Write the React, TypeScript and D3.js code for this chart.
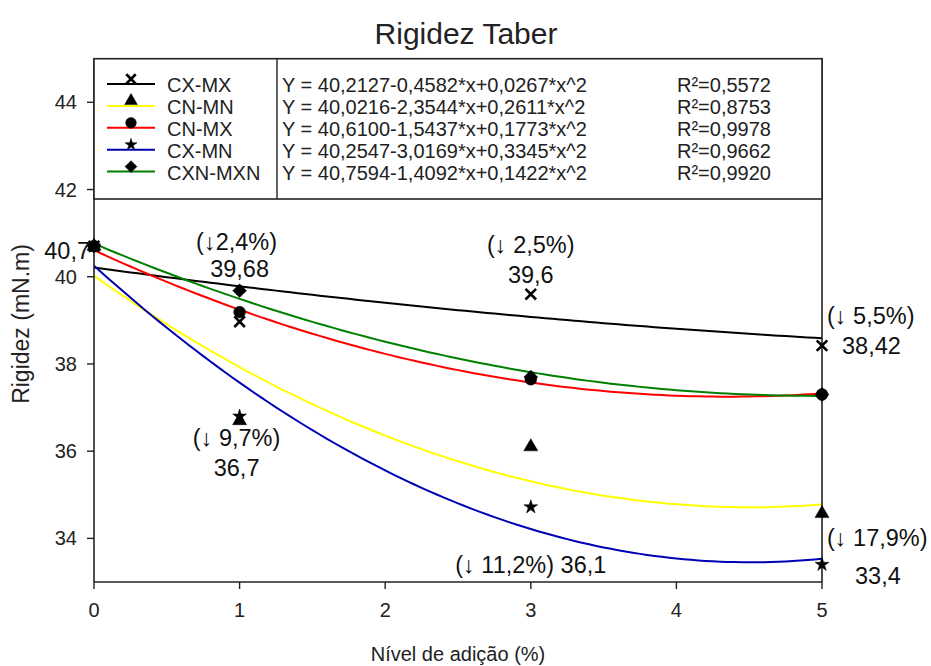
import React from "react";
import * as d3 from "d3";

// Addition levels (%) where samples were measured
const levels = [0, 1, 3, 5];

// Measured stiffness (mN.m) for each formulation
const cxmx = [40.7, 38.97, 39.6, 38.42];
const cnmn = [40.7, 36.7, 36.1, 34.57];
const cnmx = [40.7, 39.19, 37.65, 37.3];
const cxmn = [40.7, 36.8, 34.72, 33.4];
const cxnmxn = [40.7, 39.68, 37.7, 37.3];

const seriesNames = ["CX-MX", "CN-MN", "CN-MX", "CX-MN", "CXN-MXN"];
const seriesColors = ["#000000", "#ffff00", "#ff0000", "#0000b4", "#008000"];

// Quadratic regression coefficients: Y = a + b*x + c*x^2
const coefA = [40.2127, 40.0216, 40.61, 40.2547, 40.7594];
const coefB = [-0.4582, -2.3544, -1.5437, -3.0169, -1.4092];
const coefC = [0.0267, 0.2611, 0.1773, 0.3345, 0.1422];
const rSquared = [0.5572, 0.8753, 0.9978, 0.9662, 0.992];

const xTicks = [0, 1, 2, 3, 4, 5];
const yTicks = [34, 36, 38, 40, 42, 44];

// Value annotations placed next to the measured point they describe
const notes = [
  { x: 0, lines: ["40,7"], anchor: "end", dxs: [-4], dys: [13] },
  { x: 1, lines: ["(\u21932,4%)", "39,68"], anchor: "middle", dxs: [-3, 0], dys: [-41, -14] },
  { x: 3, lines: ["(\u2193 2,5%)", "39,6"], anchor: "middle", dxs: [0, 0], dys: [-41, -11] },
  { x: 1, lines: ["(\u2193 9,7%)", "36,7"], anchor: "middle", dxs: [-3, -3], dys: [25, 55] },
  { x: 3, lines: ["(\u2193 11,2%) 36,1"], anchor: "middle", dxs: [0], dys: [126] },
  { x: 5, lines: ["(\u2193 5,5%)", "38,42"], anchor: "start", dxs: [5, 20], dys: [-22, 8] },
  { x: 5, lines: ["(\u2193 17,9%)", "33,4"], anchor: "start", dxs: [5, 33], dys: [-19, 19] },
];
const noteValues = [40.7, 39.68, 39.6, 36.7, 36.1, 38.42, 33.4];

const W = 931;
const H = 666;
const FONT = "'Liberation Sans', Arial, sans-serif";

const fmt = (v: number) => v.toFixed(4).replace(".", ",");

export default function App() {
  const x = d3.scaleLinear().domain([0, 5]).range([94, 822]);
  const y = d3.scaleLinear().domain([33, 45]).range([582, 58.7]);

  const data = [cxmx, cnmn, cnmx, cxmn, cxnmxn];

  const symbolTypes = [
    d3.symbolTimes,
    d3.symbolTriangle,
    d3.symbolCircle,
    d3.symbolStar,
    d3.symbolSquare,
  ];
  const plotSizes = [75, 85, 110, 60, 95];
  const legendSizes = [60, 70, 90, 45, 70];
  const symbolPath = (i: number, sizes: number[]) =>
    d3.symbol().type(symbolTypes[i]).size(sizes[i])() as string;

  const marker = (i: number, cx: number, cy: number, key: string, sizes: number[]) => {
    const rot = i === 4 ? " rotate(45)" : "";
    const isStroke = i === 0;
    return (
      <path
        key={key}
        d={symbolPath(i, sizes)}
        transform={`translate(${cx},${cy})${rot}`}
        fill={isStroke ? "none" : "#000"}
        stroke="#000"
        strokeWidth={isStroke ? 2.6 : 0.5}
      />
    );
  };

  const samples = d3.range(0, 5.0001, 0.05);
  const curves = coefA.map((a, i) => {
    const pts = samples.map((t) => a + coefB[i] * t + coefC[i] * t * t);
    const gen = d3
      .line<number>()
      .x((_, k) => x(samples[k]))
      .y((d) => y(d));
    return gen(pts) as string;
  });

  const legendTop = 58.7;
  const legendBottom = 199;
  const rowY = (i: number) => 85 + i * 21.9;

  return (
    <svg
      width={W}
      height={H}
      style={{ position: "absolute", left: 0, top: 0, background: "#fff" }}
      fontFamily={FONT}
    >
      <rect x={0} y={0} width={W} height={H} fill="#fff" />

      {/* title */}
      <text x={466} y={44} textAnchor="middle" fontSize={30} fill="#222">
        Rigidez Taber
      </text>

      {/* regression curves */}
      {curves.map((d, i) => (
        <path key={`c${i}`} d={d} fill="none" stroke={seriesColors[i]} strokeWidth={2} />
      ))}

      {/* axes frame */}
      <line x1={94} x2={94} y1={y(45)} y2={y(33)} stroke="#222" strokeWidth={1.6} />
      <line x1={94} x2={822} y1={y(33)} y2={y(33)} stroke="#222" strokeWidth={1.6} />
      <line x1={822} x2={822} y1={y(45)} y2={y(33)} stroke="#222" strokeWidth={1.6} />

      {yTicks.map((t) => (
        <g key={`yt${t}`}>
          <line x1={87} x2={94} y1={y(t)} y2={y(t)} stroke="#222" strokeWidth={1.4} />
          <text x={77} y={y(t) + 7} textAnchor="end" fontSize={20} fill="#222">
            {t}
          </text>
        </g>
      ))}
      {xTicks.map((t) => (
        <g key={`xt${t}`}>
          <line x1={x(t)} x2={x(t)} y1={582} y2={589} stroke="#222" strokeWidth={1.4} />
          <text x={x(t)} y={617} textAnchor="middle" fontSize={20} fill="#222">
            {t}
          </text>
        </g>
      ))}

      {/* axis titles */}
      <text x={458} y={661} textAnchor="middle" fontSize={20} fill="#222">
        Nível de adição (%)
      </text>
      <text
        transform={`translate(29,${324}) rotate(-90)`}
        textAnchor="middle"
        fontSize={23}
        fill="#222"
      >
        Rigidez (mN.m)
      </text>

      {/* measured points */}
      {data.map((vals, i) =>
        vals.map((v, k) => marker(i, x(levels[k]), y(v), `m${i}-${k}`, plotSizes))
      )}

      {/* legend */}
      <rect
        x={94}
        y={legendTop}
        width={822 - 94}
        height={legendBottom - legendTop}
        fill="#fff"
        stroke="#222"
        strokeWidth={1.6}
      />
      <line x1={277} x2={277} y1={legendTop} y2={legendBottom} stroke="#222" strokeWidth={1.4} />
      {seriesNames.map((name, i) => (
        <g key={`lg${i}`}>
          <line
            x1={107}
            x2={155}
            y1={rowY(i) - 1}
            y2={rowY(i) - 1}
            stroke={seriesColors[i]}
            strokeWidth={2}
          />
          {marker(i, 131, rowY(i) - 6, `lm${i}`, legendSizes)}
          <text x={167} y={rowY(i) + 7} fontSize={20} fill="#222">
            {name}
          </text>
          <text x={282} y={rowY(i) + 7} fontSize={20} fill="#222">
            {`Y = ${fmt(coefA[i])}${fmt(coefB[i])}*x+${fmt(coefC[i])}*x^2`}
          </text>
          <text x={677} y={rowY(i) + 7} fontSize={20} fill="#222">
            {`R\u00b2=${fmt(rSquared[i])}`}
          </text>
        </g>
      ))}

      {/* value annotations */}
      {notes.map((n, i) => (
        <text
          key={`n${i}`}
          textAnchor={n.anchor as any}
          fontSize={23.5}
          fill="#111"
        >
          {n.lines.map((l, j) => (
            <tspan key={j} x={x(n.x) + n.dxs[j]} y={y(noteValues[i]) + n.dys[j]}>
              {l}
            </tspan>
          ))}
        </text>
      ))}
    </svg>
  );
}
